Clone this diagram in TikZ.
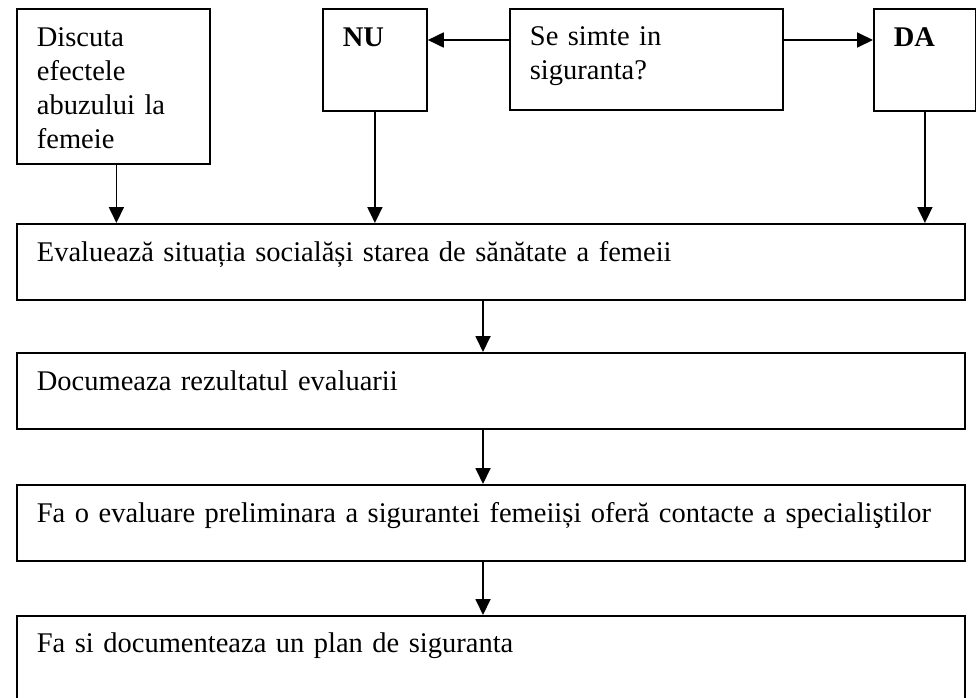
\documentclass[tikz,border=0pt]{standalone}
\usepackage{fontspec}
\setmainfont{Liberation Serif}
\usetikzlibrary{arrows.meta}

\tikzset{
    box/.style={draw, line width=1.8pt, anchor=north west, align=left, inner xsep=20pt, inner ysep=0pt, text height=38pt, font=\fontsize{28.5}{34}\selectfont},
    wide/.style={box, text width=908pt, text depth=38pt},
    flow/.style={line width=1.8pt, -{Triangle[length=16pt,width=15pt]}}
    }

\begin{document}
\begin{tikzpicture}[x=1pt, y=-1pt]
    \useasboundingbox (0,0) rectangle (976,697);
    \clip (0,0) rectangle (976,697);
                % The top row
                \node[box, text width=153pt, text depth=117pt] (disc) at (16,8) {Discuta\\efectele\\abuzului la\\femeie};
                \node[box, text width=64pt, text depth=64pt] (nu) at (322,8) {\textbf{NU}};
                \node[box, text width=233pt, text depth=64pt, text height=37pt] (safe) at (509,8) {Se simte in\\siguranta?};
                \node[box, text width=62pt, text depth=64pt] (da) at (873,8) {\textbf{DA}};
                % The steps
                \node[wide] (eval) at (16,223) {Evaluează situația socialăși starea de sănătate a femeii};
                \node[wide] (doc) at (16,352) {Documeaza rezultatul evaluarii};
                \node[wide] (prelim) at (16,484) {Fa o evaluare preliminara a sigurantei femeiiși oferă contacte a specialiştilor};
                \node[wide, text depth=60pt, text height=37pt] (plan) at (16,615) {Fa si documenteaza un plan de siguranta};
                \coordinate (lvl) at (0,40);
                \coordinate (mid) at (483,0);
                % The arrows
                \draw[flow] (safe.west |- lvl) -- (nu.east |- lvl);
                \draw[flow] (safe.east |- lvl) -- (da.west |- lvl);
                \draw[flow] ([xshift=3pt]disc.south) -- ([xshift=3pt]disc.south |- eval.north);
                \draw[flow] (nu.south) -- (nu.south |- eval.north);
                \draw[flow] (da.south) -- (da.south |- eval.north);
                \draw[flow] (eval.south -| mid) -- (doc.north -| mid);
                \draw[flow] (doc.south -| mid) -- (prelim.north -| mid);
                \draw[flow] (prelim.south -| mid) -- (plan.north -| mid);
\end{tikzpicture}
\end{document}
